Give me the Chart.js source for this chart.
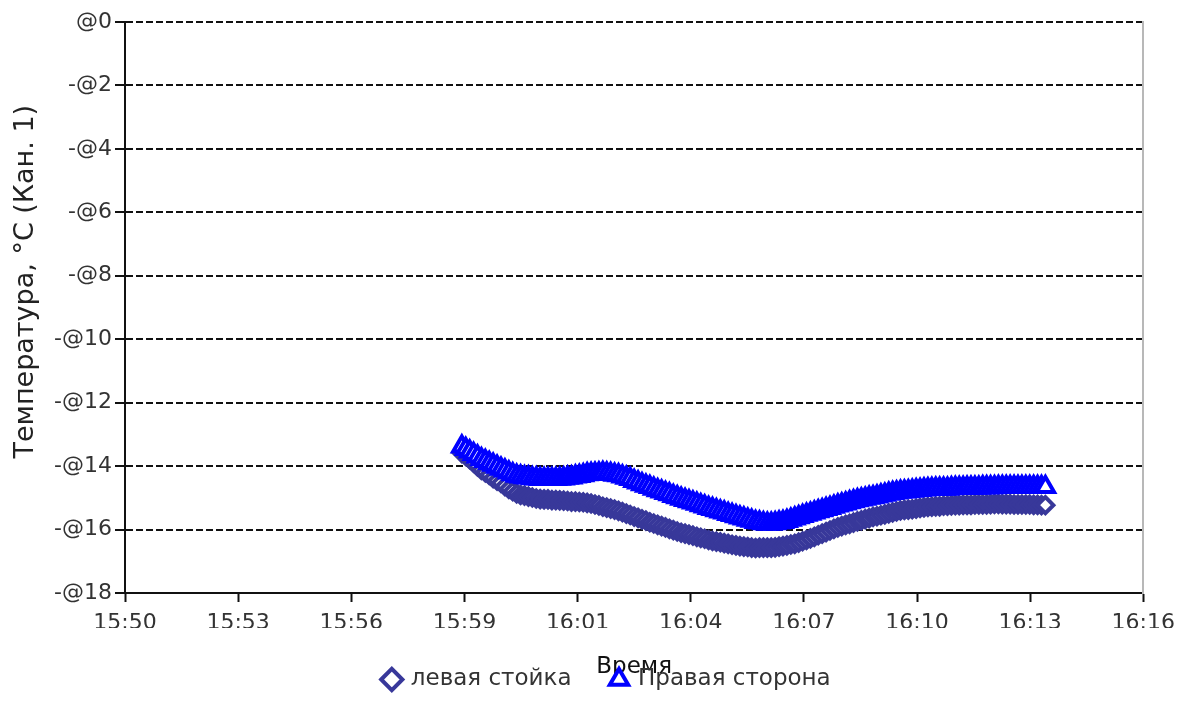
<!DOCTYPE html>
<html lang="ru">
<head>
<meta charset="utf-8">
<title>Температура</title>
<script src="https://cdn.jsdelivr.net/npm/chart.js@4.4.1/dist/chart.umd.min.js"></script>
<style>
    html, body { margin: 0; padding: 0; background: #fff; }
    .chart-wrap { position: relative; width: 1183px; height: 701px; }
</style>
</head>
<body>
<div class="chart-wrap"><canvas id="temp-chart"></canvas></div>
<script>
const X_TICK_LABELS = ['15:50', '15:53', '15:56', '15:59', '16:01', '16:04', '16:07', '16:10', '16:13', '16:16'];
const Y_TICK_VALUES = [0, -2, -4, -6, -8, -10, -12, -14, -16, -18];
const Y_TICK_LABELS = ['@0', '-@2', '-@4', '-@6', '-@8', '-@10', '-@12', '-@14', '-@16', '-@18'];

// logger readings every 6 s, starting 15:58:36
const SAMPLE_START = '15:58:36';
const SAMPLE_STEP_SEC = 6;

const LEFT_POST = [
    -13.59, -13.68, -13.78, -13.89, -14.01, -14.12, -14.20, -14.28, -14.38, -14.46,
    -14.53, -14.63, -14.72, -14.79, -14.86, -14.91, -14.93, -14.96, -14.99, -15.02,
    -15.04, -15.05, -15.05, -15.07, -15.07, -15.08, -15.09, -15.10, -15.12, -15.12,
    -15.13, -15.14, -15.16, -15.18, -15.21, -15.24, -15.28, -15.31, -15.34, -15.37,
    -15.41, -15.45, -15.50, -15.54, -15.59, -15.63, -15.68, -15.72, -15.77, -15.81,
    -15.85, -15.89, -15.93, -15.98, -16.02, -16.06, -16.10, -16.13, -16.16, -16.19,
    -16.23, -16.26, -16.29, -16.33, -16.36, -16.38, -16.40, -16.43, -16.45, -16.48,
    -16.50, -16.52, -16.54, -16.55, -16.57, -16.58, -16.57, -16.57, -16.57, -16.57,
    -16.56, -16.54, -16.52, -16.50, -16.47, -16.45, -16.41, -16.37, -16.33, -16.28,
    -16.23, -16.18, -16.13, -16.08, -16.03, -15.98, -15.93, -15.89, -15.85, -15.82,
    -15.78, -15.74, -15.71, -15.67, -15.64, -15.60, -15.58, -15.55, -15.52, -15.49,
    -15.46, -15.43, -15.40, -15.38, -15.37, -15.36, -15.34, -15.32, -15.30, -15.29,
    -15.28, -15.27, -15.27, -15.25, -15.25, -15.24, -15.23, -15.23, -15.22, -15.22,
    -15.22, -15.21, -15.21, -15.21, -15.21, -15.20, -15.19, -15.19, -15.20, -15.20,
    -15.20, -15.21, -15.21, -15.21, -15.21, -15.21, -15.22, -15.22, -15.23, -15.23,
];

const RIGHT_SIDE = [
    -13.38, -13.46, -13.54, -13.62, -13.70, -13.78, -13.84, -13.90, -13.96, -14.02,
    -14.08, -14.14, -14.20, -14.26, -14.30, -14.33, -14.35, -14.36, -14.38, -14.39,
    -14.41, -14.41, -14.41, -14.41, -14.41, -14.40, -14.39, -14.37, -14.36, -14.33,
    -14.31, -14.29, -14.26, -14.25, -14.24, -14.23, -14.22, -14.23, -14.25, -14.27,
    -14.29, -14.33, -14.37, -14.41, -14.47, -14.52, -14.57, -14.62, -14.66, -14.71,
    -14.76, -14.80, -14.85, -14.89, -14.94, -14.98, -15.03, -15.07, -15.11, -15.15,
    -15.19, -15.23, -15.27, -15.32, -15.35, -15.39, -15.43, -15.46, -15.51, -15.54,
    -15.58, -15.62, -15.65, -15.69, -15.72, -15.76, -15.78, -15.80, -15.82, -15.82,
    -15.80, -15.78, -15.76, -15.73, -15.69, -15.65, -15.61, -15.57, -15.53, -15.50,
    -15.46, -15.42, -15.39, -15.35, -15.32, -15.28, -15.24, -15.21, -15.18, -15.14,
    -15.11, -15.08, -15.05, -15.03, -15.00, -14.98, -14.96, -14.93, -14.90, -14.87,
    -14.85, -14.83, -14.81, -14.80, -14.79, -14.78, -14.76, -14.75, -14.74, -14.73,
    -14.72, -14.71, -14.71, -14.71, -14.71, -14.70, -14.69, -14.69, -14.69, -14.68,
    -14.68, -14.68, -14.68, -14.67, -14.67, -14.67, -14.67, -14.66, -14.66, -14.66,
    -14.66, -14.66, -14.66, -14.66, -14.66, -14.66, -14.66, -14.66, -14.66, -14.66,
];

(() => {
    // minutes since midnight
    const toMinutes = (hms) => {
        const [h, m, s = 0] = hms.split(':').map(Number);
        return h * 60 + m + s / 60;
    };

    const toPoints = (values) => {
        const start = toMinutes(SAMPLE_START);
        return values.map((value, i) => ({ x: start + (i * SAMPLE_STEP_SEC) / 60, y: value }));
    };

    const family = "'DejaVu Sans', Verdana, sans-serif";
    const font = { family, size: 22, lineHeight: 1.2 };
    const xMin = toMinutes(X_TICK_LABELS[0]);
    const xMax = toMinutes(X_TICK_LABELS[X_TICK_LABELS.length - 1]);

    const init = () => {
        const canvas = document.getElementById('temp-chart');
        if (!canvas || typeof Chart === 'undefined') {
            return;
        }

        new Chart(canvas, {
            type: 'line',
            data: {
                datasets: [
                    {
                        label: 'левая стойка',
                        data: toPoints(LEFT_POST),
                        borderColor: '#38389a',
                        backgroundColor: '#ffffff',
                        borderWidth: 2,
                        pointStyle: 'rectRot',
                        pointRadius: 8,
                        pointBorderWidth: 4,
                        pointBorderColor: '#38389a',
                        pointBackgroundColor: '#ffffff',
                        tension: 0,
                        order: 1,
                    },
                    {
                        label: 'Правая сторона',
                        data: toPoints(RIGHT_SIDE),
                        borderColor: '#0000ff',
                        backgroundColor: '#ffffff',
                        borderWidth: 2,
                        pointStyle: 'triangle',
                        pointRadius: 10,
                        pointBorderWidth: 4,
                        pointBorderColor: '#0000ff',
                        pointBackgroundColor: '#ffffff',
                        tension: 0,
                        order: 0,
                    },
                ],
            },
            options: {
                responsive: true,
                maintainAspectRatio: false,
                animation: false,
                layout: { padding: { left: 32, top: 22, right: 0, bottom: 0 } },
                plugins: {
                    tooltip: { enabled: false },
                    legend: {
                        position: 'bottom',
                        labels: {
                            usePointStyle: true,
                            boxWidth: 15,
                            boxHeight: 15,
                            padding: 40,
                            color: '#333',
                            font: { family, size: 23, lineHeight: 1.2 },
                            sort: (a, b) => a.datasetIndex - b.datasetIndex,
                        },
                    },
                },
                scales: {
                    x: {
                        type: 'linear',
                        min: xMin,
                        max: xMax,
                        afterBuildTicks: (scale) => {
                            const step = (xMax - xMin) / (X_TICK_LABELS.length - 1);
                            scale.ticks = X_TICK_LABELS.map((_, i) => ({ value: xMin + i * step }));
                        },
                        // the axis title sits in the legend's padding, as in the original
                        afterFit: (scale) => { scale.height = 35; },
                        ticks: {
                            autoSkip: false,
                            maxRotation: 0,
                            padding: 8,
                            color: '#333',
                            font,
                            callback: (value, index) => X_TICK_LABELS[index],
                        },
                        grid: {
                            drawOnChartArea: false,
                            tickLength: 9,
                            tickWidth: 2,
                            tickColor: '#111',
                        },
                        border: { color: '#111', width: 2 },
                        title: {
                            display: true,
                            text: 'Время',
                            color: '#111',
                            font: { family, size: 23, lineHeight: 1.2 },
                            padding: { top: 0, bottom: -53 },
                        },
                    },
                    y: {
                        min: -18,
                        max: 0,
                        afterFit: (scale) => { scale.width = 93; },
                        afterBuildTicks: (scale) => {
                            scale.ticks = Y_TICK_VALUES.slice().reverse().map((value) => ({ value }));
                        },
                        ticks: {
                            padding: 3,
                            color: '#333',
                            font,
                            callback: (value) => Y_TICK_LABELS[Y_TICK_VALUES.indexOf(value)],
                        },
                        grid: {
                            color: '#111',
                            lineWidth: 2,
                            tickLength: 10,
                            tickWidth: 2,
                            tickColor: '#111',
                        },
                        border: { color: '#111', width: 2, dash: [7, 3] },
                        title: {
                            display: true,
                            // leading spaces lift the title a little above the axis middle
                            text: '\u00a0'.repeat(6) + 'Температура, °C (Кан. 1)',
                            color: '#222',
                            font: { family, size: 27, lineHeight: 1.2 },
                            padding: { top: -22, bottom: 0 },
                        },
                    },
                    edge: {
                        position: 'right',
                        afterFit: (scale) => { scale.width = 38; },
                        ticks: { display: false },
                        grid: { display: false },
                        border: { color: '#b8b8b8', width: 2 },
                    },
                },
            },
        });
    };

    if (document.readyState === 'loading') {
        document.addEventListener('DOMContentLoaded', init);
    } else {
        init();
    }
})();
</script>
</body>
</html>
